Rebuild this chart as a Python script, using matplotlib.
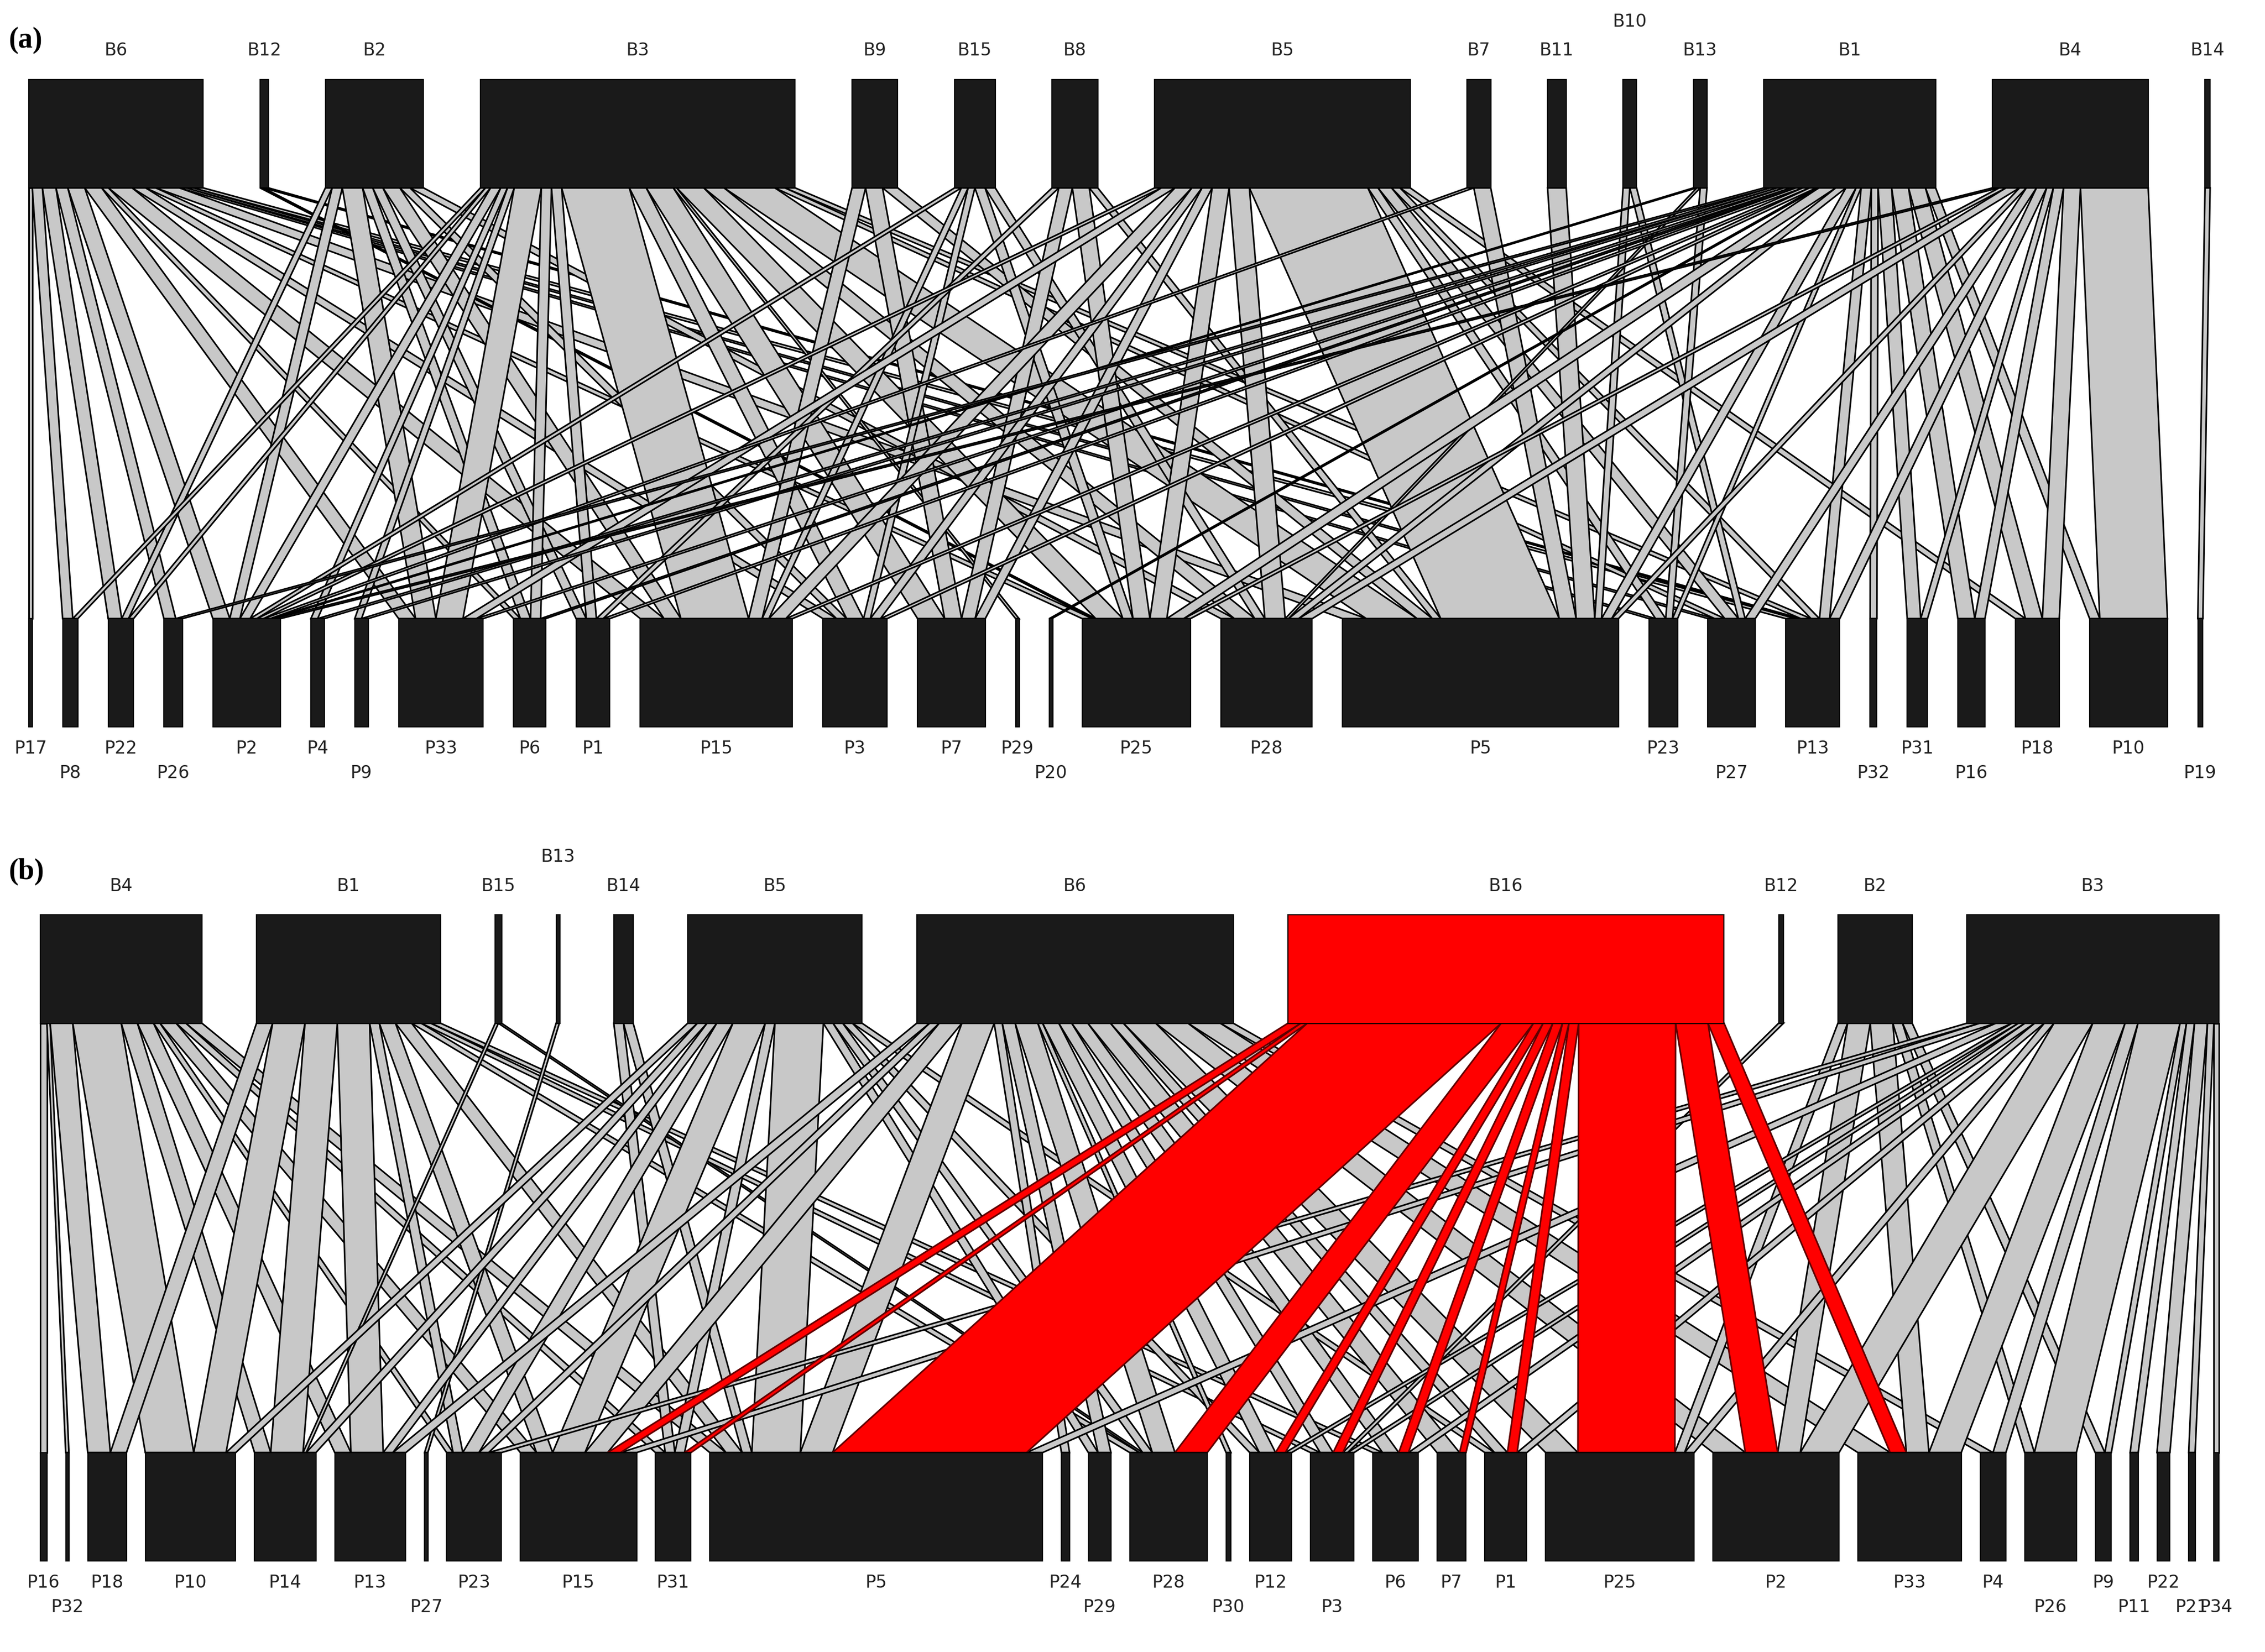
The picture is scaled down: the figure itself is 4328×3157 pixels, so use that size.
import matplotlib
matplotlib.use("Agg")
import matplotlib.pyplot as plt
from matplotlib.patches import Polygon, Rectangle

# ---------------- data ----------------
top_a = ["B6","B12","B2","B3","B9","B15","B8","B5","B7","B11","B10","B13","B1","B4","B14"]
bot_a = ["P17","P8","P22","P26","P2","P4","P9","P33","P6","P1","P15","P3","P7","P29","P20",
         "P25","P28","P5","P23","P27","P13","P32","P31","P16","P18","P10","P19"]
edges_a = [
 ("B6","P17",2),("B6","P8",6),("B6","P22",8),("B6","P26",7),("B6","P2",10),("B6","P33",10),
 ("B6","P15",14),("B6","P3",8),("B6","P25",6),("B6","P5",14),("B6","P23",4),("B6","P13",6),
 ("B6","P27",4),("B6","P6",4),
 ("B12","P25",2),("B12","P13",3),
 ("B2","P22",4),("B2","P2",6),("B2","P33",12),("B2","P6",6),("B2","P1",6),("B2","P15",10),
 ("B2","P3",6),("B2","P28",8),
 ("B3","P8",3),("B3","P22",3),("B3","P2",6),("B3","P4",4),("B3","P9",4),("B3","P33",16),
 ("B3","P6",6),("B3","P1",6),("B3","P15",40),("B3","P3",10),("B3","P7",16),("B3","P29",2),
 ("B3","P25",16),("B3","P28",12),("B3","P5",30),("B3","P27",6),("B3","P13",6),
 ("B9","P15",8),("B9","P7",10),("B9","P5",9),
 ("B15","P2",4),("B15","P15",4),("B15","P3",4),("B15","P25",6),("B15","P28",6),
 ("B8","P1",4),("B8","P7",8),("B8","P25",10),("B8","P5",5),
 ("B5","P2",4),("B5","P33",8),("B5","P15",10),("B5","P3",6),("B5","P25",10),("B5","P28",12),
 ("B5","P5",70),("B5","P23",6),("B5","P27",8),("B5","P13",5),("B5","P7",6),("B5","P18",6),
 ("B7","P5",10),("B7","P2",4),
 ("B11","P5",11),
 ("B10","P27",4),("B10","P5",4),
 ("B13","P2",2),("B13","P28",2),("B13","P23",4),
 ("B1","P26",4),("B1","P4",4),("B1","P9",4),("B1","P33",4),("B1","P6",3),("B1","P1",4),
 ("B1","P15",4),("B1","P3",4),("B1","P25",10),("B1","P28",6),("B1","P5",6),("B1","P23",3),
 ("B1","P13",6),("B1","P32",4),("B1","P31",8),("B1","P16",10),("B1","P18",10),("B1","P10",6),
 ("B1","P20",1.5),
 ("B4","P2",4),("B4","P25",4),("B4","P28",8),("B4","P5",4),("B4","P27",6),("B4","P13",6),
 ("B4","P31",4),("B4","P16",6),("B4","P18",10),("B4","P10",40),
 ("B14","P19",3),
]
low_a = ["P8","P26","P9","P20","P27","P32","P16","P19"]
high_a = ["B10"]

top_b = ["B4","B1","B15","B13","B14","B5","B6","B16","B12","B2","B3"]
bot_b = ["P16","P32","P18","P10","P14","P13","P27","P23","P15","P31","P5","P24","P29","P28",
         "P30","P12","P3","P6","P7","P1","P25","P2","P33","P4","P26","P9","P11","P22","P21","P34"]
edges_b = [
 ("B16","P15",8),("B16","P5",120),("B16","P31",4),("B16","P28",20),("B16","P12",6),
 ("B16","P3",6),("B16","P6",6),("B16","P25",60),("B16","P2",20),("B16","P33",10),
 ("B16","P7",4),("B16","P1",6),
 ("B4","P16",4),("B4","P32",2),("B4","P18",14),("B4","P10",30),("B4","P14",10),("B4","P13",10),
 ("B4","P15",10),("B4","P5",10),("B4","P23",4),("B4","P31",6),
 ("B1","P18",10),("B1","P10",20),("B1","P14",20),("B1","P13",20),("B1","P23",6),("B1","P15",10),
 ("B1","P5",10),("B1","P28",6),("B1","P3",6),("B1","P6",6),
 ("B15","P14",2),("B15","P28",2),
 ("B13","P27",2),
 ("B14","P5",6),("B14","P31",6),
 ("B5","P10",6),("B5","P14",6),("B5","P13",6),("B5","P23",10),("B5","P15",20),("B5","P31",6),
 ("B5","P5",30),("B5","P29",6),("B5","P28",6),("B5","P12",6),("B5","P1",6),
 ("B6","P23",6),("B6","P15",14),("B6","P5",20),("B6","P24",5),("B6","P29",8),("B6","P28",14),
 ("B6","P30",3),("B6","P12",10),("B6","P3",8),("B6","P6",10),("B6","P7",14),("B6","P1",8),
 ("B6","P25",20),("B6","P2",20),("B6","P33",20),("B6","P13",8),("B6","P4",8),
 ("B12","P3",3),
 ("B2","P25",6),("B2","P2",14),("B2","P33",14),("B2","P26",6),("B2","P9",6),
 ("B3","P23",8),("B3","P15",10),("B3","P5",10),("B3","P12",4),("B3","P3",4),("B3","P6",6),
 ("B3","P1",6),("B3","P25",6),("B3","P2",24),("B3","P33",20),("B3","P4",8),("B3","P26",26),
 ("B3","P9",4),("B3","P11",5),("B3","P22",8),("B3","P21",4),("B3","P34",3),
]
low_b = ["P32","P27","P29","P30","P3","P26","P11","P21","P34"]
high_b = ["B13"]

# ---------------- drawing ----------------
W, H = 1568, 1143
fig = plt.figure(figsize=(21.64, 15.785), dpi=200)
ax = fig.add_axes([0, 0, 1, 1])
ax.set_xlim(0, W); ax.set_ylim(H, 0); ax.axis("off")

def layout(names, sums, s, x0, x1):
    tot = sum(sums[n] for n in names) * s
    gap = (x1 - x0 - tot) / (len(names) - 1)
    pos = {}; x = x0
    for n in names:
        w = sums[n] * s
        pos[n] = (x, w); x += w + gap
    return pos

def labels(names, pos, y, dy, shifted):
    for n in names:
        x, w = pos[n]
        yy = y + dy if n in shifted else y
        ax.text(x + max(w, 2.5) / 2, yy, n, ha="center", va="center", fontsize=12, color="#222222")

def panel(top, bot, edges, yt, yb, bh, xt, xb, bgap, low, high, red=None):
    tsum = {n: 0 for n in top}; bsum = {n: 0 for n in bot}
    for t, b, w in edges:
        tsum[t] += w; bsum[b] += w
    s = (xb[1] - xb[0] - bgap * (len(bot) - 1)) / sum(bsum.values())
    tp = layout(top, tsum, s, *xt)
    bp = layout(bot, bsum, s, *xb)
    tcur = {n: tp[n][0] for n in top}; bcur = {n: bp[n][0] for n in bot}
    tstart = {}; bstart = {}
    for t in top:
        for (tt, b, w) in sorted([e for e in edges if e[0] == t], key=lambda e: bot.index(e[1])):
            tstart[(tt, b)] = tcur[t]; tcur[t] += w * s
    for b in bot:
        for (t, bb, w) in sorted([e for e in edges if e[1] == b], key=lambda e: top.index(e[0])):
            bstart[(t, bb)] = bcur[b]; bcur[b] += w * s
    y1 = yt + bh; y2 = yb
    order = sorted(edges, key=lambda e: 1 if e[0] == red else 0)
    for t, b, w in order:
        xa = tstart[(t, b)]; xc = bstart[(t, b)]; ww = w * s
        isred = (t == red)
        poly = Polygon([(xa, y1), (xa + ww, y1), (xc + ww, y2), (xc, y2)], closed=True,
                       facecolor="#ff0000" if isred else "#c8c8c8",
                       edgecolor="#600000" if isred else "black", lw=1.1, zorder=2)
        ax.add_patch(poly)
    for n in top:
        x, w = tp[n]
        ax.add_patch(Rectangle((x, yt), max(w, 2.5), bh,
                               facecolor="#ff0000" if n == red else "#1a1a1a",
                               edgecolor="black", lw=0.8, zorder=3))
    for n in bot:
        x, w = bp[n]
        ax.add_patch(Rectangle((x, yb), max(w, 2.5), bh, facecolor="#1a1a1a",
                               edgecolor="black", lw=0.8, zorder=3))
    labels(top, tp, yt - 20, -20, high)
    labels(bot, bp, yb + bh + 15, 17, low)

panel(top_a, bot_a, edges_a, 55, 428, 75, (20, 1530), (20, 1525), 21, low_a, high_a)
panel(top_b, bot_b, edges_b, 633, 1005, 75, (28, 1536), (28, 1536), 13, low_b, high_b, red="B16")

ax.text(6, 28, "(a)", fontsize=20, fontweight="bold", family="Liberation Serif", va="center")
ax.text(6, 603, "(b)", fontsize=20, fontweight="bold", family="Liberation Serif", va="center")

fig.savefig("out.png", dpi=200, facecolor="white")
